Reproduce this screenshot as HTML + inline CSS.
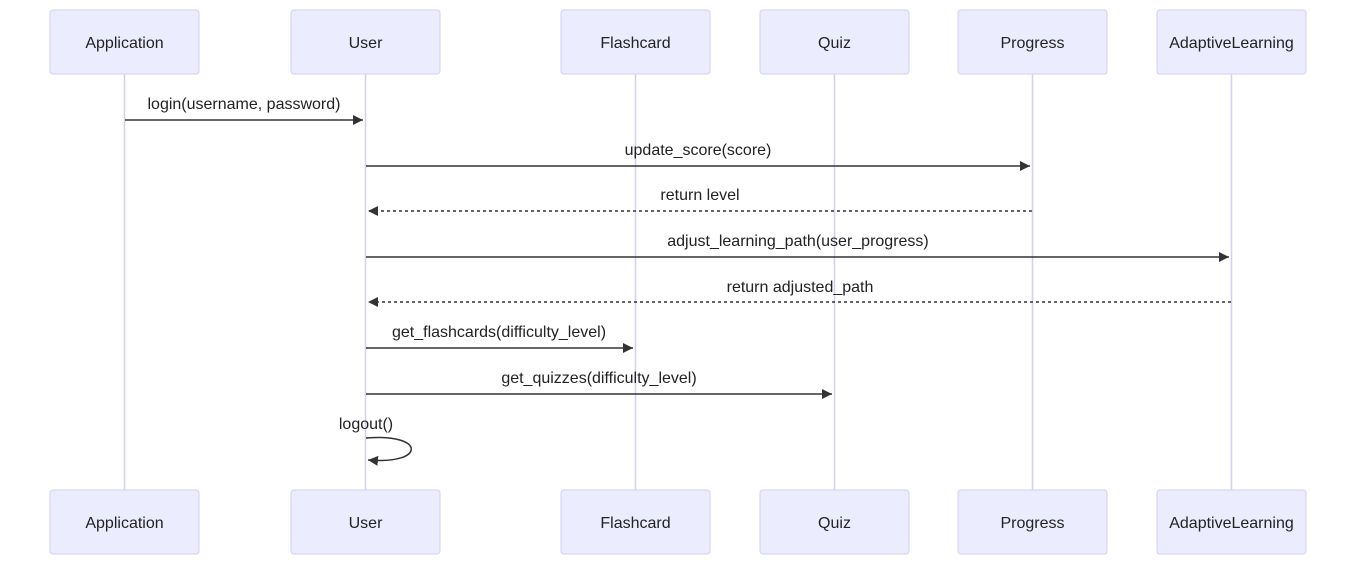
<!DOCTYPE html>
<html><head><style>body{margin:0;background:#fff}svg{display:block}text{font-family:"Liberation Sans",Arial,sans-serif;font-size:16px;fill:#222}</style></head><body>
<svg width="1364" height="569" viewBox="0 0 1364 569" xmlns="http://www.w3.org/2000/svg">
<defs><marker id="a" markerWidth="12" markerHeight="12" refX="10" refY="5" orient="auto" markerUnits="userSpaceOnUse"><path d="M0,0L10,5L0,10z" fill="#333"/></marker></defs>
<g stroke="#d6cdf3" stroke-width="1.5">
<line x1="124.5" y1="74" x2="124.5" y2="490"/><line x1="365.5" y1="74" x2="365.5" y2="490"/><line x1="635.5" y1="74" x2="635.5" y2="490"/><line x1="834.5" y1="74" x2="834.5" y2="490"/><line x1="1032.5" y1="74" x2="1032.5" y2="490"/><line x1="1231.5" y1="74" x2="1231.5" y2="490"/>
</g>
<g fill="#ECECFF" stroke="#d6cdf3" stroke-width="1">
<rect x="50" y="10" width="149" height="64" rx="3"/><rect x="291" y="10" width="149" height="64" rx="3"/><rect x="561" y="10" width="149" height="64" rx="3"/><rect x="760" y="10" width="149" height="64" rx="3"/><rect x="958" y="10" width="149" height="64" rx="3"/><rect x="1157" y="10" width="149" height="64" rx="3"/>
<rect x="50" y="490" width="149" height="64" rx="3"/><rect x="291" y="490" width="149" height="64" rx="3"/><rect x="561" y="490" width="149" height="64" rx="3"/><rect x="760" y="490" width="149" height="64" rx="3"/><rect x="958" y="490" width="149" height="64" rx="3"/><rect x="1157" y="490" width="149" height="64" rx="3"/>
</g>
<g text-anchor="middle">
<text x="124.5" y="48">Application</text><text x="365.5" y="48">User</text><text x="635.5" y="48">Flashcard</text><text x="834.5" y="48">Quiz</text><text x="1032.5" y="48">Progress</text><text x="1231.5" y="48">AdaptiveLearning</text>
<text x="124.5" y="528">Application</text><text x="365.5" y="528">User</text><text x="635.5" y="528">Flashcard</text><text x="834.5" y="528">Quiz</text><text x="1032.5" y="528">Progress</text><text x="1231.5" y="528">AdaptiveLearning</text>
</g>
<g stroke="#333" stroke-width="1.5" fill="none" marker-end="url(#a)">
<line x1="125" y1="120" x2="363" y2="120"/>
<line x1="366" y1="166" x2="1030" y2="166"/>
<line x1="1032" y1="211" x2="368" y2="211" stroke-dasharray="3,3"/>
<line x1="366" y1="257" x2="1229" y2="257"/>
<line x1="1231" y1="302" x2="368" y2="302" stroke-dasharray="3,3"/>
<line x1="366" y1="348" x2="633" y2="348"/>
<line x1="366" y1="394" x2="832" y2="394"/>
<path d="M366,438 C426,433 426,465 368,460"/>
</g>
<g text-anchor="middle">
<text x="244" y="109">login(username, password)</text>
<text x="698" y="155">update_score(score)</text>
<text x="700" y="200">return level</text>
<text x="798" y="246">adjust_learning_path(user_progress)</text>
<text x="800" y="292">return adjusted_path</text>
<text x="499" y="337">get_flashcards(difficulty_level)</text>
<text x="599" y="383">get_quizzes(difficulty_level)</text>
<text x="366" y="429">logout()</text>
</g>
</svg>
</body></html>
